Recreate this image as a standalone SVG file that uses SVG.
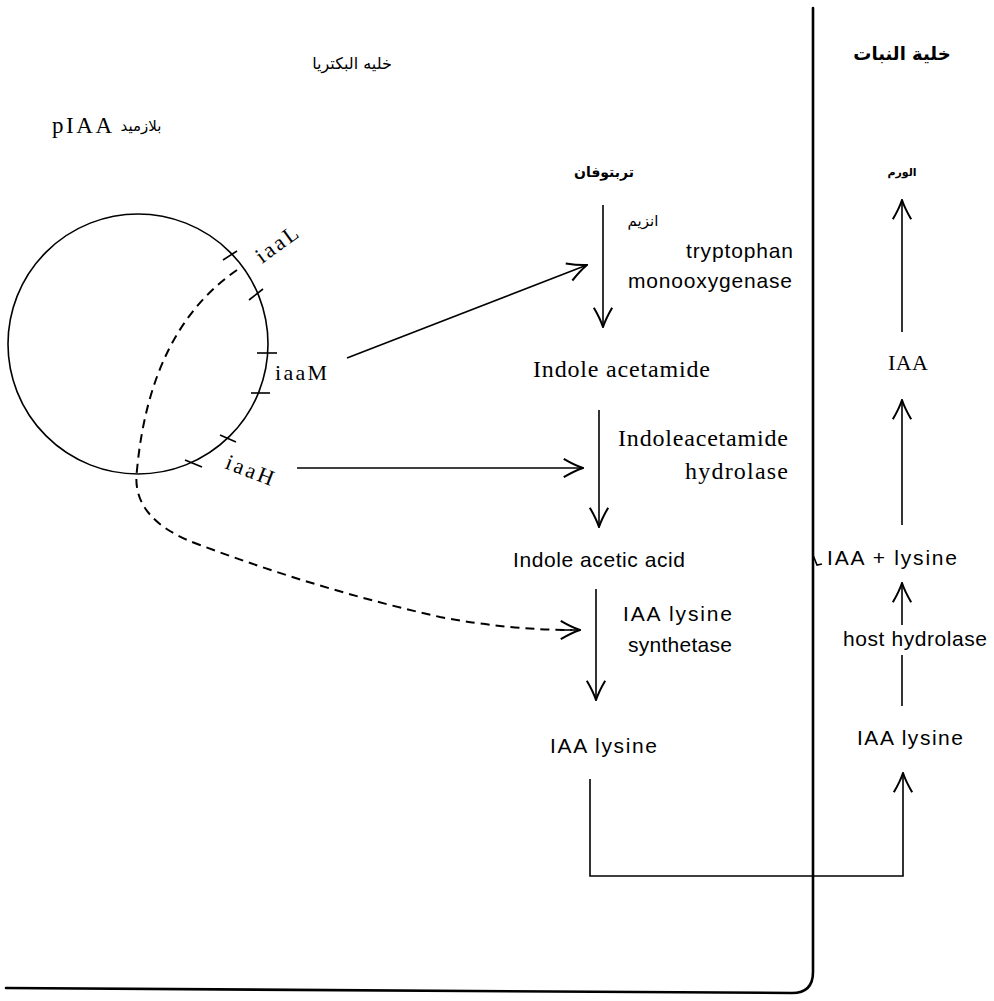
<svg xmlns="http://www.w3.org/2000/svg" width="994" height="1001" viewBox="0 0 994 1001">
<style>
.ln{fill:none;stroke:#000;stroke-width:1.6}
.bd{fill:none;stroke:#000;stroke-width:2.6;stroke-linecap:round}
.ds{fill:none;stroke:#000;stroke-width:2;stroke-dasharray:9 6}
.tk{stroke:#000;stroke-width:1.6}
.se{font-family:"Liberation Serif",serif;fill:#000}
.sa{font-family:"Liberation Sans",sans-serif;fill:#000}
.ar{font-family:"DejaVu Sans",sans-serif;fill:#000}
</style>
<defs>
<marker id="ah" viewBox="0 0 24 24" refX="23" refY="12" markerWidth="22" markerHeight="22" markerUnits="userSpaceOnUse" orient="auto">
<path d="M2,2 Q14,9 23,12 Q14,15 2,22" fill="none" stroke="#000" stroke-width="2.2"/>
</marker>
</defs>
<rect width="994" height="1001" fill="#fff"/>

<g id="boundary">
<path class="bd" d="M813,8 L813,972 Q813,993 792,993 L6,988"/>
<path class="ln" d="M813,555 l4,10 l5,-1"/>
</g>

<g id="titles">
<text class="ar" x="352" y="69" font-size="16" text-anchor="middle">خليه البكتريا</text>
<text class="ar" x="902" y="60" font-size="18" font-weight="bold" text-anchor="middle">خلية النبات</text>
</g>

<g id="plasmid">
<text class="se" x="52" y="133" font-size="23" textLength="60" lengthAdjust="spacing">pIAA</text>
<text class="ar" x="141" y="131" font-size="15" text-anchor="middle">بلازميد</text>
<circle class="ln" cx="138" cy="344" r="130"/>
<line class="tk" x1="223" y1="260" x2="237" y2="251"/>
<line class="tk" x1="249" y1="300" x2="263" y2="289"/>
<line class="tk" x1="257" y1="353" x2="277" y2="353"/>
<line class="tk" x1="251" y1="393" x2="270" y2="393"/>
<line class="tk" x1="220" y1="435" x2="236" y2="442"/>
<line class="tk" x1="185" y1="460" x2="202" y2="467"/>
<text class="se" font-size="22" textLength="47" lengthAdjust="spacing" transform="translate(262,264) rotate(-36)">iaaL</text>
<text class="se" x="275" y="380" font-size="22" textLength="52" lengthAdjust="spacing">iaaM</text>
<text class="se" font-size="22" textLength="50" lengthAdjust="spacing" transform="translate(224,468) rotate(21)">iaaH</text>
</g>

<g id="tryptophan">
<text class="ar" x="604" y="177" font-size="14" font-weight="bold" text-anchor="middle">تربتوفان</text>
</g>
<g id="enzyme1">
<text class="ar" x="643" y="226" font-size="15" text-anchor="middle">انزيم</text>
<text class="sa" x="686" y="258" font-size="21" textLength="107" lengthAdjust="spacing">tryptophan</text>
<text class="sa" x="628" y="288" font-size="21" textLength="164" lengthAdjust="spacing">monooxygenase</text>
</g>
<g id="indole-acetamide">
<text class="se" x="533" y="377" font-size="24" textLength="177" lengthAdjust="spacing">Indole acetamide</text>
</g>
<g id="enzyme2">
<text class="se" x="618" y="446" font-size="24" textLength="170" lengthAdjust="spacing">Indoleacetamide</text>
<text class="se" x="685" y="479" font-size="24" textLength="103" lengthAdjust="spacing">hydrolase</text>
</g>
<g id="indole-acetic-acid">
<text class="sa" x="513" y="567" font-size="21" textLength="172" lengthAdjust="spacing">Indole acetic acid</text>
</g>
<g id="enzyme3">
<text class="sa" x="623" y="621" font-size="21" textLength="109" lengthAdjust="spacing">IAA lysine</text>
<text class="sa" x="628" y="652" font-size="21" textLength="104" lengthAdjust="spacing">synthetase</text>
</g>
<g id="iaa-lysine-bacteria">
<text class="sa" x="550" y="753" font-size="21" textLength="107" lengthAdjust="spacing">IAA lysine</text>
</g>

<g id="plant">
<text class="ar" x="902" y="176" font-size="11" font-weight="bold" text-anchor="middle">الورم</text>
<text class="se" x="888" y="370" font-size="22" textLength="40" lengthAdjust="spacing">IAA</text>
<text class="sa" x="827" y="565" font-size="21" textLength="130" lengthAdjust="spacing">IAA + lysine</text>
<text class="sa" x="843" y="646" font-size="21" textLength="144" lengthAdjust="spacing">host hydrolase</text>
<text class="sa" x="857" y="745" font-size="21" textLength="106" lengthAdjust="spacing">IAA lysine</text>
</g>

<g id="connectors">
<line class="ln" x1="603" y1="205" x2="603" y2="327" marker-end="url(#ah)"/>
<line class="ln" x1="599" y1="410" x2="599" y2="527" marker-end="url(#ah)"/>
<line class="ln" x1="596" y1="589" x2="596" y2="700" marker-end="url(#ah)"/>
<line class="ln" x1="347" y1="358" x2="587" y2="265" marker-end="url(#ah)"/>
<line class="ln" x1="297" y1="468" x2="583" y2="468" marker-end="url(#ah)"/>
<path class="ds" d="M237,270 Q150,330 137,470 Q130,520 200,545 Q320,590 440,617 Q510,630 572,630"/>
<line class="ln" x1="560" y1="630" x2="580" y2="630" marker-end="url(#ah)"/>
<path class="ln" d="M590,779 L590,876 L903,876 L903,773" marker-end="url(#ah)"/>
<line class="ln" x1="902" y1="706" x2="902" y2="655"/>
<line class="ln" x1="902" y1="625" x2="902" y2="583" marker-end="url(#ah)"/>
<line class="ln" x1="902" y1="525" x2="902" y2="400" marker-end="url(#ah)"/>
<line class="ln" x1="902" y1="332" x2="902" y2="200" marker-end="url(#ah)"/>
</g>
</svg>
